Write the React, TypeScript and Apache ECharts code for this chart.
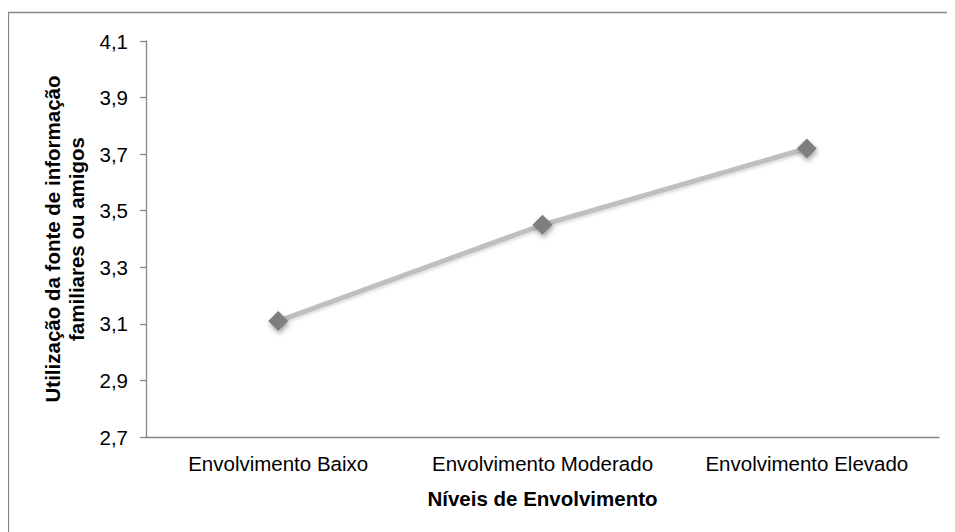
import React, { useEffect, useRef } from "react";
import * as echarts from "echarts";

// Envolvimento levels and mean use of the family/friends information source
const categories = ["Envolvimento Baixo", "Envolvimento Moderado", "Envolvimento Elevado"];
const meanUse = [3.11, 3.45, 3.72];

const yMin = 2.7;
const yMax = 4.1;
const yStep = 0.2;

const xTitle = "Níveis de Envolvimento";
const yTitle = "Utilização da fonte de informação\nfamiliares ou amigos";

const FONT = "'Liberation Sans', Arial, sans-serif";
const AXIS_GREY = "#868686";
const FS = 20.5;

export default function App() {
  const ref = useRef<HTMLDivElement>(null);

  useEffect(() => {
    if (!ref.current) return;
    const chart = echarts.init(ref.current, null, { renderer: "svg" });
    chart.setOption({
      animation: false,
      backgroundColor: "#ffffff",
      textStyle: { fontFamily: FONT },
      graphic: [
        {
          type: "rect",
          z: -1,
          silent: true,
          shape: { x: 0.5, y: 4.5, width: 2000, height: 2000 },
          style: { fill: "none", stroke: AXIS_GREY, lineWidth: 1.3 },
        },
      ],
      grid: { left: 138, top: 33, right: 16, height: 396 },
      xAxis: {
        type: "category",
        data: categories,
        boundaryGap: true,
        axisLine: { show: true, lineStyle: { color: AXIS_GREY, width: 1.3 } },
        axisTick: { show: false },
        axisLabel: {
          color: "#000",
          fontSize: FS,
          fontFamily: FONT,
          margin: 16,
          interval: 0,
          hideOverlap: false,
        },
        name: xTitle,
        nameLocation: "middle",
        nameGap: 51,
        nameTextStyle: { color: "#000", fontSize: FS, fontWeight: "bold", fontFamily: FONT, verticalAlign: "top" },
      },
      yAxis: {
        type: "value",
        min: yMin,
        max: yMax,
        interval: yStep,
        splitLine: { show: false },
        axisLine: { show: true, lineStyle: { color: AXIS_GREY, width: 1.3 } },
        axisTick: { show: true, inside: false, length: 6, lineStyle: { color: AXIS_GREY, width: 1.3 } },
        axisLabel: {
          color: "#000",
          fontSize: FS,
          fontFamily: FONT,
          margin: 18,
          formatter: (v: number) => v.toFixed(1).replace(".", ","),
        },
        name: yTitle,
        nameLocation: "middle",
        nameRotate: 90,
        nameGap: 48,
        nameTextStyle: { color: "#000", fontSize: FS, fontWeight: "bold", fontFamily: FONT, lineHeight: 24 },
      },
      series: [
        {
          type: "line",
          data: meanUse,
          symbol: "diamond",
          symbolSize: 20,
          lineStyle: {
            color: "#BFBFBF",
            width: 5,
            shadowColor: "rgba(0,0,0,0.15)",
            shadowBlur: 3,
            shadowOffsetY: 2,
          },
          itemStyle: {
            color: "#7F7F7F",
            shadowColor: "rgba(0,0,0,0.35)",
            shadowBlur: 5,
            shadowOffsetX: 1,
            shadowOffsetY: 3,
          },
          label: { show: false },
        },
      ],
    });
    return () => chart.dispose();
  }, []);

  return <div ref={ref} style={{ width: 947, height: 524 }} />;
}
